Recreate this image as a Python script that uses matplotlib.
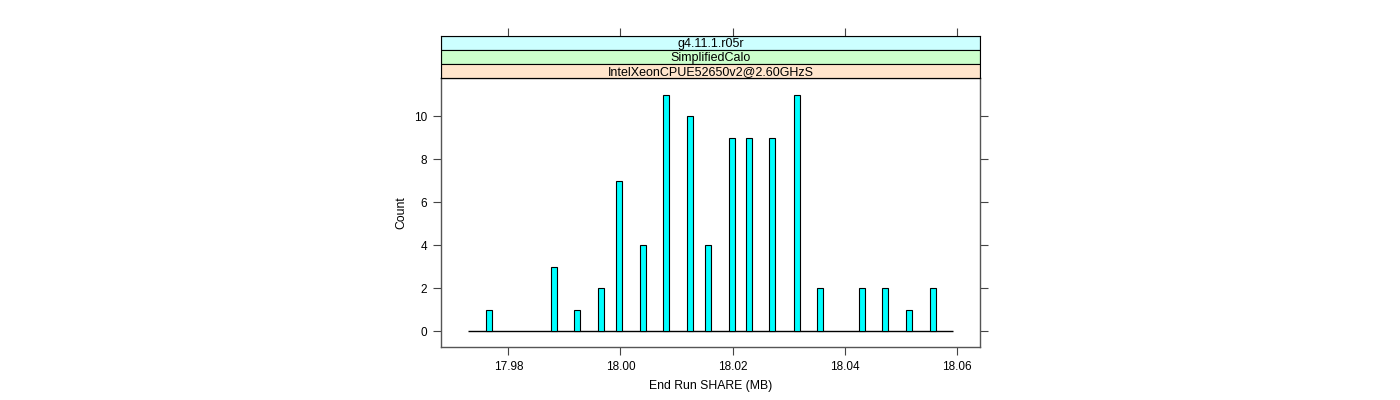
import matplotlib.pyplot as plt
from matplotlib.patches import Rectangle

plt.rcParams['font.family'] = ['Liberation Sans', 'DejaVu Sans']

# histogram bin centres (MB) and counts
share_mb = [17.9766, 17.9881, 17.9923, 17.9966, 17.9997, 18.0040, 18.0081,
            18.0124, 18.0156, 18.0198, 18.0230, 18.0271, 18.0314, 18.0356,
            18.0430, 18.0472, 18.0514, 18.0557]
counts = [1, 3, 1, 2, 7, 4, 11, 10, 4, 9, 9, 9, 11, 2, 2, 2, 1, 2]
bin_width = 0.00107
hist_range = [17.9728, 18.0593]

strips = ['g4.11.1.r05r', 'SimplifiedCalo', 'IntelXeonCPUE52650v2@2.60GHzS']
strip_colors = ['#ccffff', '#ccffcc', '#ffe5cc']

xticks = [17.98, 18.00, 18.02, 18.04, 18.06]
yticks = [0, 2, 4, 6, 8, 10]

W, H = 1400, 400
fig = plt.figure(figsize=(W / 100, H / 100), dpi=100)

left, right = 441, 980
p_top, p_bot = 78, 347.3
strip_top = 36

ax = fig.add_axes([left / W, 1 - p_bot / H, (right - left) / W, (p_bot - p_top) / H])
ax.bar(share_mb, counts, width=bin_width, color='#00ffff', edgecolor='black', lw=0.8, zorder=3)
ax.hlines(0, hist_range[0], hist_range[1], color='black', lw=1, zorder=2)

ax.set_xlim(17.968, 18.0641)
ax.set_ylim(-0.744, 11.77)
ax.set_xticks(xticks)
ax.set_xticklabels([f'{v:.2f}' for v in xticks])
ax.set_yticks(yticks)
ax.tick_params(axis='both', direction='out', length=6, width=0.8, color='#444444',
               labelsize=8.5, pad=4, right=True)
for s in ax.spines.values():
    s.set_color('#555555')
    s.set_linewidth(1)
ax.set_xlabel('End Run SHARE (MB)', fontsize=8.8, labelpad=5)
ax.set_ylabel('Count', fontsize=8.8, labelpad=5)

# strips on top of the panel
sax = fig.add_axes([left / W, 1 - p_top / H, (right - left) / W, (p_top - strip_top) / H])
sax.set_xlim(ax.get_xlim())
sax.set_ylim(0, 3)
for i, (label, col) in enumerate(zip(strips, strip_colors)):
    y0 = 2 - i
    sax.add_patch(Rectangle((17.968, y0), 0.0961, 1, facecolor=col, edgecolor='black', lw=0.8))
    sax.text(sum(ax.get_xlim()) / 2, y0 + 0.45, label, ha='center', va='center', fontsize=9)
sax.set_xticks(xticks)
sax.set_yticks([])
sax.tick_params(axis='x', top=True, bottom=False, labeltop=False, labelbottom=False,
                direction='out', length=6, width=0.8, color='#444444')
for s in sax.spines.values():
    s.set_color('black')
    s.set_linewidth(0.8)

fig.savefig('out.png', dpi=100)
